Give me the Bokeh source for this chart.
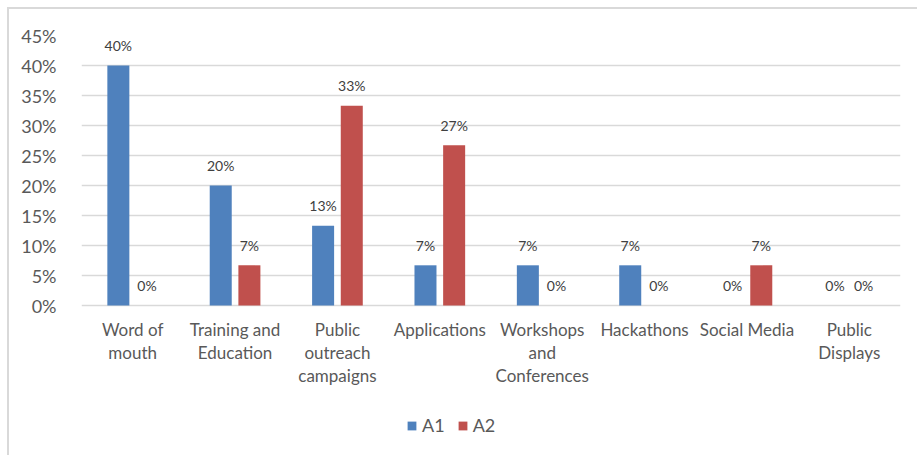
from bokeh.plotting import figure
from bokeh.models import ColumnDataSource, FactorRange, Legend, LegendItem, FixedTicker
from bokeh.transform import dodge
from bokeh.core.properties import value
from bokeh.embed import file_html
from bokeh.resources import INLINE

categories = ["Word of mouth", "Training and Education", "Public outreach campaigns",
              "Applications", "Workshops and Conferences", "Hackathons",
              "Social Media", "Public Displays"]
category_labels = ["Word of\nmouth", "Training and\nEducation", "Public\noutreach\ncampaigns",
                   "Applications", "Workshops\nand\nConferences", "Hackathons",
                   "Social Media", "Public\nDisplays"]
a1 = [40.0, 20.0, 13.3, 6.7, 6.7, 6.7, 0.0, 0.0]
a2 = [0.0, 6.7, 33.3, 26.7, 0.0, 0.0, 6.7, 0.0]
y_ticks = [0, 5, 10, 15, 20, 25, 30, 35, 40, 45]
series_names = ["A1", "A2"]

FONT = "Lato"
BLUE = "#4F81BD"
RED = "#C0504D"
W, H = 910, 448
TOP, LEFT, RIGHT = 26, 72, 19
PX_PER_UNIT = 6.0

src = ColumnDataSource(dict(
    cat=categories,
    a1=a1,
    a2=a2,
    a1_lbl=[f"{round(v)}%" for v in a1],
    a2_lbl=[f"{round(v)}%" for v in a2],
))

# one row per line of each category label
lc, lt, lo = [], [], []
for c, lab in zip(categories, category_labels):
    for i, line in enumerate(lab.split("\n")):
        lc.append(c)
        lt.append(line)
        lo.append(24 + 23 * i)
lines_src = ColumnDataSource(dict(cat=lc, txt=lt, yoff=lo, y0=[0] * len(lc)))

y_top = y_ticks[-1]
y_bottom = y_top - (H - TOP) / PX_PER_UNIT

p = figure(x_range=FactorRange(factors=categories), y_range=(y_bottom, y_top),
           width=W, height=H, output_backend="svg", toolbar_location=None,
           x_axis_location=None,
           min_border_left=LEFT, min_border_right=RIGHT, min_border_top=TOP, min_border_bottom=0)

r1 = p.vbar(x=dodge("cat", -0.14, range=p.x_range), top="a1", width=0.215,
            source=src, fill_color=BLUE, line_color=None)
r2 = p.vbar(x=dodge("cat", 0.14, range=p.x_range), top="a2", width=0.215,
            source=src, fill_color=RED, line_color=None)

for key, off in (("a1", -0.14), ("a2", 0.14)):
    p.text(x=dodge("cat", off, range=p.x_range), y=key, text=key + "_lbl", source=src,
           text_align="center", text_baseline="middle", y_offset=-20,
           text_font=value(FONT), text_font_size="14px", text_color="#404040")

p.text(x="cat", y="y0", text="txt", y_offset="yoff", source=lines_src,
       text_align="center", text_baseline="middle",
       text_font=value(FONT), text_font_size="17px", text_color="#595959")

p.outline_line_color = None
p.background_fill_color = "white"
p.border_fill_color = "white"

p.xgrid.grid_line_color = None
p.ygrid.grid_line_color = "#d9d9d9"
p.ygrid.grid_line_width = 1.5
p.ygrid.ticker = FixedTicker(ticks=y_ticks)

p.yaxis.ticker = FixedTicker(ticks=y_ticks)
p.yaxis.major_label_overrides = {t: f"{t}%" for t in y_ticks}
p.yaxis.axis_line_color = None
p.yaxis.major_tick_line_color = None
p.yaxis.minor_tick_line_color = None
p.yaxis.major_label_standoff = 19
p.yaxis.major_label_text_font = FONT
p.yaxis.major_label_text_font_size = "18px"
p.yaxis.major_label_text_color = "#595959"

legend = Legend(items=[LegendItem(label=series_names[0], renderers=[r1]),
                       LegendItem(label=series_names[1], renderers=[r2])],
                orientation="horizontal", location=(325, 21),
                glyph_width=11, glyph_height=11, label_standoff=5, spacing=12,
                padding=0, margin=0, border_line_color=None, background_fill_alpha=0,
                label_text_font=FONT, label_text_font_size="18px", label_text_color="#595959")
p.add_layout(legend, "center")

p.styles = {"margin-left": "7px", "margin-top": "7px",
            "border-left": "2px solid #d9d9d9", "border-top": "2px solid #d9d9d9"}

open("out.html", "w").write(file_html(p, INLINE))
